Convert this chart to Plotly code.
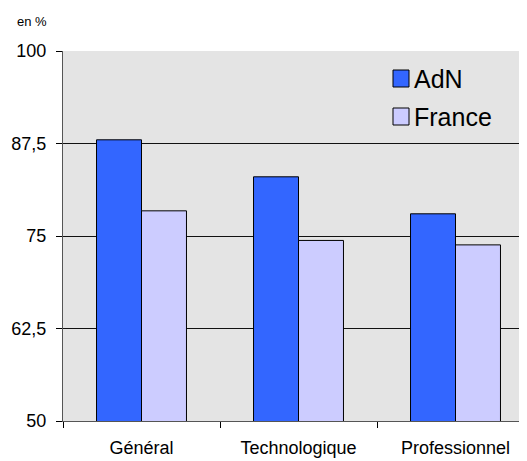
import plotly.graph_objects as go

# Taux de réussite au bac par filière (en %)
categories = ["Général", "Technologique", "Professionnel"]
series_names = ["AdN", "France"]
adn_values = [88.0, 83.0, 78.0]
france_values = [78.4, 74.4, 73.8]
y_ticks = [50, 62.5, 75, 87.5, 100]
y_tick_labels = ["50", "62,5", "75", "87,5", "100"]

colors = ["#3366ff", "#ccccff"]
font = "Liberation Sans, Arial, sans-serif"

# the page body adds an 8px offset, so everything is laid out 8px up/left
OFF = 8
W, H = 527 - OFF, 461 - OFF
L, R, T, B = 63 - OFF, 0, 51 - OFF, 40
plot_w, plot_h = W - L - R, H - T - B


def px_x(x):
    return (x - OFF - L) / plot_w


def px_y(y):
    return (H - B - (y - OFF)) / plot_h


fig = go.Figure()
for name, vals, col in zip(series_names, [adn_values, france_values], colors):
    fig.add_trace(
        go.Bar(
            x=categories,
            y=vals,
            name=name,
            marker={"color": col, "line": {"color": "#000000", "width": 1}},
            showlegend=False,
            hovertemplate="%{x}: %{y}<extra>" + name + "</extra>",
        )
    )

# legend drawn by hand to get the big square swatches
for i, (name, col) in enumerate(zip(series_names, colors)):
    top = 70 + i * 38
    fig.add_shape(
        type="rect",
        xref="paper",
        yref="paper",
        x0=px_x(393),
        x1=px_x(409),
        y0=px_y(top + 17),
        y1=px_y(top),
        fillcolor=col,
        line={"color": "#000000", "width": 1},
    )
    fig.add_annotation(
        text=name,
        xref="paper",
        yref="paper",
        x=px_x(412),
        y=px_y(top + 9),
        xanchor="left",
        yanchor="middle",
        showarrow=False,
        font={"family": font, "size": 25, "color": "#000000"},
    )

fig.add_annotation(
    text="en %",
    xref="paper",
    yref="paper",
    x=px_x(32),
    y=px_y(22),
    xanchor="center",
    yanchor="middle",
    showarrow=False,
    font={"family": font, "size": 13, "color": "#000000"},
)

fig.update_layout(
    width=W,
    height=H,
    margin={"l": L, "r": R, "t": T, "b": B},
    paper_bgcolor="#ffffff",
    plot_bgcolor="#e4e4e4",
    barmode="group",
    bargap=0.427,
    bargroupgap=0,
    font={"family": font, "color": "#000000"},
    xaxis={
        "range": [-0.5, -0.5 + plot_w / 157],
        "tickson": "boundaries",
        "ticks": "outside",
        "ticklen": 6,
        "tickcolor": "#000000",
        "showline": True,
        "linecolor": "#555555",
        "linewidth": 1,
        "showgrid": False,
        "tickfont": {"size": 18},
        "ticklabelstandoff": 10,
    },
    yaxis={
        "range": [50, 100],
        "tickvals": y_ticks,
        "ticktext": y_tick_labels,
        "ticks": "outside",
        "ticklen": 6,
        "tickcolor": "#000000",
        "showline": True,
        "linecolor": "#555555",
        "linewidth": 1,
        "showgrid": True,
        "gridcolor": "#111111",
        "gridwidth": 1,
        "zeroline": False,
        "tickfont": {"size": 18},
        "ticklabelstandoff": 6,
    },
)

fig.write_html("out.html")
